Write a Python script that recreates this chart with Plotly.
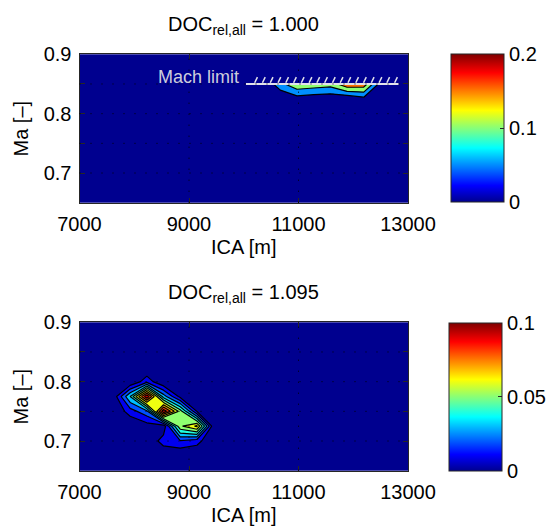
import math
import plotly.graph_objects as go

# ---------------- data ----------------
# ICA grid (flight levels FL230 ... FL430, in metres) and Mach grid
ICA_GRID = [7010, 7315, 7620, 7925, 8230, 8534, 8839, 9144, 9449, 9754, 10058,
            10363, 10668, 10973, 11278, 11582, 11887, 12192, 12497, 12802, 13106]
MA_GRID = [0.65, 0.675, 0.7, 0.725, 0.75, 0.775, 0.8, 0.825, 0.85]

# upper panel (DOC_rel,all = 1.000): non-zero part of the field
TOP_DOC = "1.000"
TOP_PATCH_ICA = [10363, 10668, 10973, 11278, 11582, 11887, 12192, 12497]
TOP_PATCH_MA = [0.825, 0.85]
TOP_PATCH_Z = [
    [0.0, 0.0, 0.0275, 0.019, 0.0146, 0.0087, 0.034, 0.0],
    [0.0, 0.085, 0.14, 0.13, 0.12, 0.19, 0.18, 0.03],
]
TOP_LEVELS = [0.05, 0.10, 0.15]
TOP_CMAX = 0.2
TOP_CBAR_TICKS = [0, 0.1, 0.2]
TOP_CBAR_TEXT = ["0", "0.1", "0.2"]

# lower panel (DOC_rel,all = 1.095)
BOT_DOC = "1.095"
BOT_PATCH_ICA = [7315, 7620, 7925, 8230, 8534, 8839, 9144, 9449]
BOT_PATCH_MA = [0.675, 0.7, 0.725, 0.75, 0.775, 0.8, 0.825]
BOT_PATCH_Z = [
    [0.0, 0.0, 0.0, 0.0, 0.0, 0.0, 0.0, 0.0],
    [0.0, 0.0, 0.0, 0.0, 0.015, 0.019, 0.014, 0.0],
    [0.0, 0.0, 0.0, 0.005, 0.003, 0.058, 0.072, 0.002],
    [0.0, 0.0, 0.015, 0.027, 0.098, 0.055, 0.01, 0.0],
    [0.0, 0.003, 0.04, 0.098, 0.035, 0.007, 0.0, 0.0],
    [0.0, 0.0, 0.0, 0.016, 0.0, 0.0, 0.0, 0.0],
    [0.0, 0.0, 0.0, 0.0, 0.0, 0.0, 0.0, 0.0],
]
BOT_LEVELS = [0.01, 0.02, 0.03, 0.04, 0.05, 0.06, 0.07, 0.08, 0.09]
BOT_CMAX = 0.1
BOT_CBAR_TICKS = [0, 0.05, 0.1]
BOT_CBAR_TEXT = ["0", "0.05", "0.1"]

# axes
X_TICKS = [7000, 9000, 11000, 13000]
X_TICK_TEXT = ["7000", "9000", "11000", "13000"]
Y_TICKS = [0.7, 0.75, 0.8, 0.85, 0.9]
Y_TICK_TEXT = ["0.7", " ", "0.8", " ", "0.9"]
X_GRID = [9000, 11000]
Y_GRID = [0.7, 0.75, 0.8, 0.85]

# Mach limit annotation (upper panel)
MACH_LIMIT = 0.85
MACH_LIMIT_ICA = [10040, 12830]
HATCH_ICA = [10200 + 142 * k for k in range(19)]

# ---------------- helpers ----------------
W, H = 553, 528
FONT = "Liberation Sans, Arial, Helvetica, sans-serif"
DARK = "#262626"


def matlab_jet(m=64):
    n = math.ceil(m / 4)
    u = [i / n for i in range(1, n + 1)] + [1.0] * (n - 1) + [i / n for i in range(n, 0, -1)]
    g0 = math.ceil(n / 2) - (1 if m % 4 == 1 else 0)
    J = [[0.0, 0.0, 0.0] for _ in range(m)]
    for i, val in enumerate(u):
        g = g0 + i + 1
        r = g + n
        b = g - n
        if 1 <= r <= m:
            J[r - 1][0] = val
        if 1 <= g <= m:
            J[g - 1][1] = val
        if 1 <= b <= m:
            J[b - 1][2] = val
    return J


JET = matlab_jet(64)


def rgb(c):
    return "rgb(%d,%d,%d)" % tuple(round(255 * v) for v in c)


def level_color(level, cmax):
    idx = int(math.floor(level / cmax * 64 + 1e-9))
    idx = max(0, min(63, idx))
    return rgb(JET[idx])


JET_SCALE = [[k / 63, rgb(JET[k])] for k in range(64)]
NAVY = rgb(JET[0])


def full_field(p_ica, p_ma, p_z):
    z = [[0.0] * len(ICA_GRID) for _ in MA_GRID]
    for i, ma in enumerate(p_ma):
        r = MA_GRID.index(ma)
        for j, ica in enumerate(p_ica):
            c = ICA_GRID.index(ica)
            z[r][c] = p_z[i][j]
    return z


def px2x(px):
    return px / W


def py2y(py):
    return 1 - py / H


# panel geometry (pixels)
PX_L, PX_R = 79.5, 408.0
PANELS = [
    dict(top=54.3, bottom=202.7, cb_left=450.7, cb_w=53.3, cb_top=54.3, cb_bot=202.7,
         pz=(TOP_PATCH_ICA, TOP_PATCH_MA, TOP_PATCH_Z), levels=TOP_LEVELS, cmax=TOP_CMAX,
         cticks=TOP_CBAR_TICKS, ctext=TOP_CBAR_TEXT, doc=TOP_DOC),
    dict(top=322.3, bottom=470.7, cb_left=449.3, cb_w=53.4, cb_top=322.7, cb_bot=470.7,
         pz=(BOT_PATCH_ICA, BOT_PATCH_MA, BOT_PATCH_Z), levels=BOT_LEVELS, cmax=BOT_CMAX,
         cticks=BOT_CBAR_TICKS, ctext=BOT_CBAR_TEXT, doc=BOT_DOC),
]

fig = go.Figure()
layout = dict(
    width=W, height=H, margin=dict(l=0, r=0, t=0, b=0, autoexpand=False),
    paper_bgcolor="white", plot_bgcolor=NAVY, showlegend=False,
    font=dict(family=FONT, size=20, color="black"),
    shapes=[], annotations=[],
)

for k, P in enumerate(PANELS):
    xa = "x" if k == 0 else "x2"
    ya = "y" if k == 0 else "y2"
    xkey = "xaxis" if k == 0 else "xaxis2"
    ykey = "yaxis" if k == 0 else "yaxis2"
    z = full_field(*P["pz"])
    for lev in P["levels"]:
        # plotly shades the region that violates the constraint -> z >= lev
        fig.add_trace(go.Contour(
            x=ICA_GRID, y=MA_GRID, z=z, xaxis=xa, yaxis=ya,
            contours=dict(type="constraint", operation="<", value=lev),
            fillcolor=level_color(lev, P["cmax"]),
            line=dict(color="black", width=1.2, smoothing=0),
            showscale=False, hoverinfo="skip", showlegend=False,
        ))
    # colour bar carrier
    fig.add_trace(go.Scatter(
        x=[ICA_GRID[0]], y=[MA_GRID[0]], xaxis=xa, yaxis=ya, mode="markers",
        hoverinfo="skip", showlegend=False,
        marker=dict(size=1, opacity=0, color=[0], cmin=0, cmax=P["cmax"],
                    colorscale=JET_SCALE, showscale=True,
                    colorbar=dict(
                        x=px2x(P["cb_left"]), xanchor="left", xref="paper",
                        y=py2y(P["cb_top"]), yanchor="top", yref="paper",
                        lenmode="pixels", len=P["cb_bot"] - P["cb_top"],
                        thicknessmode="pixels", thickness=P["cb_w"],
                        xpad=0, ypad=0, outlinewidth=1, outlinecolor=DARK,
                        tickvals=P["cticks"], ticktext=P["ctext"],
                        ticks="inside", ticklen=4, tickcolor=DARK,
                        tickfont=dict(size=20, color="black", family=FONT),
                    )),
    ))
    layout[xkey] = dict(
        domain=[px2x(PX_L), px2x(PX_R)], range=[7000, 13000], anchor=ya,
        tickvals=X_TICKS, ticktext=X_TICK_TEXT, ticks="inside", ticklen=5,
        tickcolor=DARK, showline=True, linecolor=DARK, linewidth=1, mirror="ticks",
        showgrid=False, zeroline=False, layer="above traces",
        tickfont=dict(size=20, color="black"), ticklabelstandoff=3,
    )
    layout[ykey] = dict(
        domain=[py2y(P["bottom"]), py2y(P["top"])], range=[0.65, 0.9], anchor=xa,
        tickvals=Y_TICKS, ticktext=Y_TICK_TEXT, ticks="inside", ticklen=5,
        tickcolor=DARK, showline=True, linecolor=DARK, linewidth=1, mirror="ticks",
        showgrid=False, zeroline=False, layer="above traces",
        tickfont=dict(size=20, color="black"), ticklabelstandoff=3,
    )
    # dotted grid on top of the fill
    for gx in X_GRID:
        layout["shapes"].append(dict(type="line", xref=xa, yref=ya + " domain", x0=gx, x1=gx,
                                     y0=0, y1=1, layer="above",
                                     line=dict(color="black", width=1, dash="1px,10px")))
    for gy in Y_GRID:
        layout["shapes"].append(dict(type="line", xref=xa + " domain", yref=ya, x0=0, x1=1,
                                     y0=gy, y1=gy, layer="above",
                                     line=dict(color="black", width=1, dash="1px,10px")))
    cx = px2x((PX_L + PX_R) / 2)
    layout["annotations"].append(dict(
        text="DOC<sub>rel,all</sub> = " + P["doc"], xref="paper", yref="paper",
        x=cx, y=py2y(P["top"] - 14), xanchor="center", yanchor="bottom",
        showarrow=False, font=dict(size=20, color="black")))
    layout["annotations"].append(dict(
        text="ICA [m]", xref="paper", yref="paper",
        x=cx, y=py2y(P["bottom"] + 44), xanchor="center", yanchor="middle",
        showarrow=False, font=dict(size=20, color="black")))
    layout["annotations"].append(dict(
        text="Ma [\u2013]", xref="paper", yref="paper", textangle=-90,
        x=px2x(20), y=py2y((P["top"] + P["bottom"]) / 2), xanchor="center", yanchor="middle",
        showarrow=False, font=dict(size=20, color="black")))

# Mach limit line + hatching (upper panel)
fig.add_trace(go.Scatter(
    x=MACH_LIMIT_ICA, y=[MACH_LIMIT, MACH_LIMIT], xaxis="x", yaxis="y", mode="lines",
    line=dict(color="rgb(225,225,235)", width=2), hoverinfo="skip", showlegend=False))
hx, hy = [], []
for h in HATCH_ICA:
    hx += [h, h + 50, None]
    hy += [MACH_LIMIT + 0.002, MACH_LIMIT + 0.0115, None]
fig.add_trace(go.Scatter(
    x=hx, y=hy, xaxis="x", yaxis="y", mode="lines",
    line=dict(color="rgb(225,225,235)", width=1.5), hoverinfo="skip", showlegend=False))
layout["annotations"].append(dict(
    text="Mach limit", xref="x", yref="y", x=9950, y=0.862, xanchor="right", yanchor="middle",
    showarrow=False, font=dict(size=18, color="rgb(205,205,220)")))

fig.update_layout(**layout)
fig.write_html("out.html", config={"displayModeBar": False},
               post_script="document.body.style.margin='0';document.body.style.padding='0';")
